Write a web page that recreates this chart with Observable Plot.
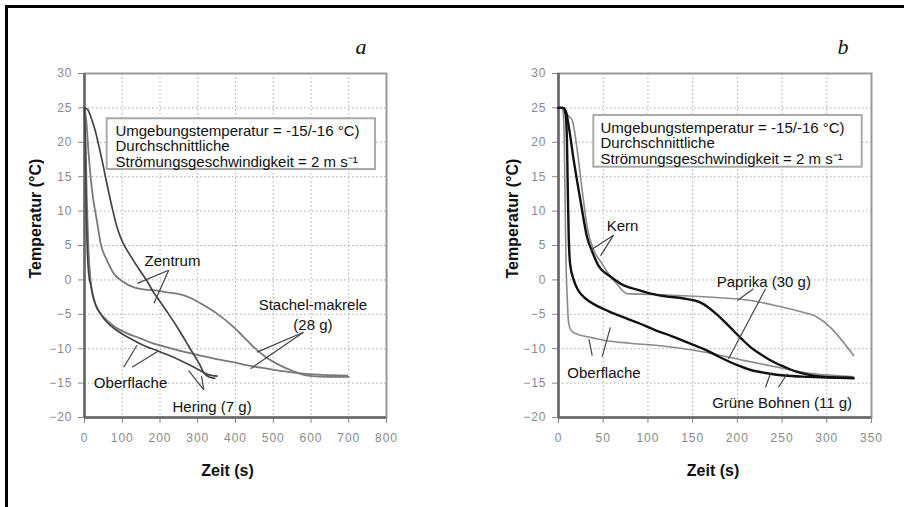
<!DOCTYPE html>
<html><head><meta charset="utf-8">
<script src="https://cdn.jsdelivr.net/npm/d3@7"></script>
<script src="https://cdn.jsdelivr.net/npm/@observablehq/plot@0.6"></script>
<style>
body{margin:0;background:#fff;}
#wrap{position:relative;width:904px;height:507px;overflow:hidden;background:#fff;font-family:"Liberation Sans",Arial,sans-serif;}
#border{position:absolute;left:5px;top:5px;width:920px;height:520px;border-top:3px solid #000;border-left:3px solid #000;}
.panel{position:absolute;top:0;}
#wrap svg [aria-label$="tick label"] text{letter-spacing:1px;}
</style></head><body>
<div id="wrap"><div id="border"></div><div id="pa" class="panel" style="left:0"></div><div id="pb" class="panel" style="left:452px"></div></div>
<script>
// ---- Data: panel a (Hering / Stachelmakrele) [Zeit s, Temperatur °C]
const yTicks = [-20,-15,-10,-5,0,5,10,15,20,25,30];
const xTicksA = [0,100,200,300,400,500,600,700,800];
const xTicksB = [0,50,100,150,200,250,300,350];

const heringZentrum = [[0,25],[8,24.8],[18,23.5],[28,21.8],[38,19.5],[48,17],[60,13.8],[72,10.8],[87,7.5],[100,5.6],[122,3.5],[145,1.5],[166,-0.2],[185,-2],[201,-3.2],[222,-4.9],[245,-6.8],[268,-8.9],[290,-10.9],[305,-12.3],[316,-13.5],[330,-14.1],[345,-14.3]];
const heringOberflache = [[0,25],[2,20],[4,12],[7,5],[12,0.5],[16,-0.6],[22,-2.3],[30,-3.7],[42,-4.9],[60,-6.2],[87,-7.4],[110,-8.2],[131,-8.8],[160,-9.6],[193,-10.3],[225,-11],[254,-11.7],[280,-12.4],[307,-13.2],[330,-13.8],[351,-14]];
const makreleZentrum = [[0,25],[5,23],[10,19],[20,13],[34,8.2],[42,5.5],[60,2.8],[78,0.9],[100,-0.2],[131,-1.1],[160,-1.4],[183,-1.5],[219,-1.8],[254,-2.1],[280,-2.6],[307,-3.4],[351,-4.9],[396,-6.9],[420,-8.2],[449,-9.8],[480,-11.2],[510,-12.2],[550,-13.2],[590,-13.9],[650,-14.1],[700,-14.1]];
const makreleOberflache = [[0,25],[3,20],[6,12],[10,5],[16,0],[25,-2.8],[35,-4.3],[51,-5.4],[80,-6.8],[110,-7.7],[148,-8.5],[180,-9.2],[219,-9.8],[260,-10.4],[307,-11],[350,-11.5],[396,-12],[440,-12.5],[484,-12.9],[530,-13.3],[572,-13.6],[630,-13.8],[696,-13.9]];

// ---- Data: panel b (Paprika / Grüne Bohnen)
const bohnenKern = [[0,25],[5,25],[8,24.6],[11.6,22.2],[17,17.4],[24.6,11.5],[32,6.2],[38,4],[45,2],[58,0.5],[73,-0.8],[90,-1.5],[103,-2],[120,-2.4],[140,-2.7],[159,-3.3],[177,-5],[192,-6.9],[205,-8.6],[215,-9.8],[226,-10.8],[240,-11.9],[252,-12.6],[265,-13.3],[280,-13.8],[300,-14.1],[327,-14.2]];
const bohnenOberflache = [[0,25],[5,25],[8,24],[9.5,20],[10.5,12],[11.5,6],[13,2.3],[17,0],[22,-1.5],[30,-2.7],[42,-3.7],[55,-4.5],[70,-5.3],[90,-6.3],[108,-7.3],[127,-8.2],[146,-9.2],[165,-10.2],[180,-11.2],[200,-12.4],[215,-13.1],[235,-13.6],[252,-13.9],[280,-14.1],[300,-14.2],[330,-14.3]];
const paprikaKern = [[0,25],[6,25],[10,24],[15.3,23.2],[21,18.8],[26.5,13],[32,7.7],[39.5,4.3],[48,2.5],[58,0.5],[66,-0.7],[71,-1.5],[77,-2],[100,-2.1],[140,-2.3],[180,-2.6],[215,-3],[245,-3.8],[270,-4.6],[289,-5.4],[304,-6.9],[315,-8.5],[330,-11]];
const paprikaOberflache = [[0,25],[4,25],[5.5,24],[6.5,20],[7.5,10],[8.5,2],[9.7,-2.5],[11.5,-6.4],[14,-7.3],[19,-7.8],[34,-8.3],[52,-8.8],[80,-9.2],[108,-9.5],[140,-10],[175,-10.8],[207,-11.7],[245,-12.7],[282,-13.6],[310,-13.9],[330,-14.1]];

// ---- Annotations (data coordinates)
const boxA = [{x1:60,x2:771,y1:23.42,y2:16.05}];
const boxB = [{x1:39.5,x2:339.6,y1:23.9,y2:16.38}];
const noteText = "Umgebungstemperatur = -15/-16 °C)\nDurchschnittliche\nStrömungsgeschwindigkeit = 2 m s⁻¹";
const noteA = [{x:82,y:22.54,text:noteText}];
const noteB = [{x:47,y:23.0,text:noteText}];
const labelsA = [
  {x:233,y:3.0,text:"Zentrum"},
  {x:605,y:-4.9,text:"Stachel-makrele\n(28 g)"},
  {x:122,y:-14.84,text:"Oberflache"},
  {x:338,y:-18.26,text:"Hering (7 g)"}
];
const labelsB = [
  {x:71.6,y:8.05,text:"Kern"},
  {x:229.6,y:-0.09,text:"Paprika (30 g)"},
  {x:50.9,y:-13.4,text:"Oberflache"},
  {x:250,y:-17.7,text:"Grüne Bohnen (11 g)"}
];
const leadersA = [
  {x1:223,y1:1.4,x2:140,y2:-0.5},{x1:223,y1:1.4,x2:184,y2:-3.4},
  {x1:580,y1:-7.6,x2:457,y2:-10.5},{x1:580,y1:-7.6,x2:440,y2:-12.9},
  {x1:104,y1:-12.7,x2:139,y2:-9.5},{x1:126,y1:-12.7,x2:197,y2:-10.3},
  {x1:316,y1:-16,x2:276,y2:-13.2},{x1:316,y1:-16,x2:310,y2:-14}
];
const leadersB = [
  {x1:61.5,y1:6.5,x2:35.8,y2:4.3},{x1:61.5,y1:6.5,x2:47,y2:3.5},
  {x1:218,y1:-1.3,x2:200,y2:-3.0},{x1:231.5,y1:-1.3,x2:190,y2:-11.5},
  {x1:37.7,y1:-11,x2:34,y2:-8.6},{x1:48.8,y1:-11.2,x2:58,y2:-6.9},
  {x1:231.5,y1:-15.6,x2:237,y2:-13.6},{x1:246,y1:-15.6,x2:256,y2:-13.6}
];

const FONT = "'Liberation Sans', Arial, sans-serif";
function toRows(pts){ return pts.map(([x,y])=>({x,y})); }

function panel(o){
  const seriesMarks = o.series.map(s => Plot.line(toRows(s.pts), {x:"x", y:"y", stroke:s.color, strokeWidth:s.width, curve:"monotone-x"}));
  return Plot.plot({
    width:452, height:507, marginLeft:o.marginLeft, marginRight:o.marginRight, marginTop:73, marginBottom:90,
    x:{domain:o.xDomain}, y:{domain:[-20,30]},
    style:{fontFamily:FONT, fontSize:"15px", background:"transparent", color:"#111"},
    marks:[
      Plot.gridX(o.xTicks, {stroke:"#aaa", strokeOpacity:1, strokeDasharray:"1.5,2.5"}),
      Plot.gridY(yTicks, {stroke:"#aaa", strokeOpacity:1, strokeDasharray:"1.5,2.5"}),
      Plot.frame({stroke:"#999", strokeWidth:2}),
      Plot.axisY(yTicks, {tickSize:6, tickPadding:6, fontSize:12, fill:"#8a8a8a", stroke:"#888", label:null}),
      Plot.axisX(o.xTicks, {tickSize:6, tickPadding:10, fontSize:12, fill:"#8a8a8a", stroke:"#888", label:null}),
      Plot.ruleX([o.xDomain[0]], {stroke:"#666", strokeWidth:2.5}),
      Plot.ruleY([-20], {stroke:"#666", strokeWidth:2.5}),
      Plot.rect(o.box, {x1:"x1", x2:"x2", y1:"y1", y2:"y2", fill:"white", stroke:"#aaa", strokeWidth:2}),
      Plot.text(o.note, {x:"x", y:"y", text:"text", textAnchor:"start", lineAnchor:"top", lineHeight:1.03, fontSize:15, fill:"#111"}),
      ...seriesMarks,
      Plot.link(o.leaders, {x1:"x1", y1:"y1", x2:"x2", y2:"y2", stroke:"#444", strokeWidth:1.2}),
      Plot.text(o.labels, {x:"x", y:"y", text:"text", fontSize:15, lineHeight:1.33, fill:"#111"}),
      Plot.text(["Zeit (s)"], {frameAnchor:"bottom", dx:o.xlabDx, dy:58, fontSize:16, fontWeight:"bold", fill:"#111"}),
      Plot.text(["Temperatur (°C)"], {frameAnchor:"left", rotate:-90, dx:o.ylabDx, dy:33, fontSize:16, fontWeight:"bold", fill:"#111"}),
      Plot.text([o.letter], {frameAnchor:"top-right", dx:o.letterDx, dy:-20, lineAnchor:"bottom", fontSize:22, fontStyle:"italic", fontFamily:"'Liberation Serif', serif", fill:"#111"})
    ]
  });
}

document.getElementById("pa").append(panel({
  marginLeft:84, marginRight:66, xDomain:[0,800], xTicks:xTicksA,
  series:[
    {pts:makreleZentrum, color:"#7a7a7a", width:1.8},
    {pts:makreleOberflache, color:"#7a7a7a", width:1.8},
    {pts:heringZentrum, color:"#444", width:1.7},
    {pts:heringOberflache, color:"#444", width:1.7}
  ],
  box:boxA, note:noteA, labels:labelsA, leaders:leadersA,
  letter:"a", letterDx:-20, xlabDx:-8, ylabDx:-49
}));
document.getElementById("pb").append(panel({
  marginLeft:106, marginRight:33, xDomain:[0,350], xTicks:xTicksB,
  series:[
    {pts:paprikaKern, color:"#8a8a8a", width:1.6},
    {pts:paprikaOberflache, color:"#8a8a8a", width:1.6},
    {pts:bohnenKern, color:"#111", width:2.4},
    {pts:bohnenOberflache, color:"#111", width:2.4}
  ],
  box:boxB, note:noteB, labels:labelsB, leaders:leadersB,
  letter:"b", letterDx:-23, xlabDx:-2, ylabDx:-46
}));
</script></body></html>
